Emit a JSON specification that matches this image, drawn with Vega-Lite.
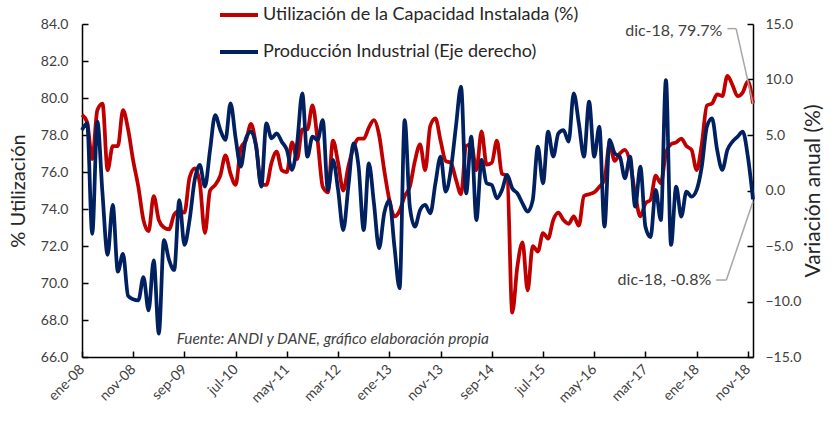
{
  "$schema": "https://vega.github.io/schema/vega-lite/v6.json",
  "width": 671,
  "height": 333,
  "autosize": {"type": "none"},
  "padding": {"left": 82, "top": 24, "right": 82, "bottom": 68},
  "background": "white",
  "config": {
    "font": "Lato",
    "view": {"stroke": null},
    "axis": {"grid": false, "labelColor": "#404040", "labelFontSize": 14, "titleColor": "#262626", "titleFontSize": 16, "titleFontWeight": "normal", "domainColor": "#000000", "tickColor": "#000000", "domainWidth": 1.5, "tickWidth": 1.5, "labelOverlap": false}
  },
  "data": {"values": [
    {"t":0,"util":79.1,"prod":5.45},{"t":1,"util":78.7,"prod":6.05},{"t":2,"util":76.7,"prod":-3.9},{"t":3,"util":79.35,"prod":6.2},{"t":4,"util":79.7,"prod":-0.26},{"t":5,"util":76.1,"prod":-5.8},{"t":6,"util":77.4,"prod":-1.3},{"t":7,"util":77.4,"prod":-7.3},{"t":8,"util":79.35,"prod":-5.7},{"t":9,"util":78.3,"prod":-9.5},{"t":10,"util":76.6,"prod":-9.8},{"t":11,"util":75.2,"prod":-9.9},
    {"t":12,"util":73.4,"prod":-7.8},{"t":13,"util":72.8,"prod":-10.8},{"t":14,"util":74.7,"prod":-6.3},{"t":15,"util":73.4,"prod":-12.9},{"t":16,"util":73.0,"prod":-4.46},{"t":17,"util":72.9,"prod":-6.26},{"t":18,"util":73.7,"prod":-7.16},{"t":19,"util":73.9,"prod":-0.86},{"t":20,"util":73.8,"prod":-4.9},{"t":21,"util":75.7,"prod":-2.66},{"t":22,"util":76.2,"prod":0.95},{"t":23,"util":75.4,"prod":2.3},
    {"t":24,"util":72.7,"prod":0.35},{"t":25,"util":75.0,"prod":3.65},{"t":26,"util":75.3,"prod":6.8},{"t":27,"util":75.8,"prod":5.45},{"t":28,"util":76.9,"prod":4.55},{"t":29,"util":75.9,"prod":7.85},{"t":30,"util":75.3,"prod":4.7},{"t":31,"util":77.3,"prod":2.15},{"t":32,"util":77.7,"prod":4.7},{"t":33,"util":78.6,"prod":5.3},{"t":34,"util":77.4,"prod":3.95},{"t":35,"util":75.3,"prod":0.35},
    {"t":36,"util":75.3,"prod":6.05},{"t":37,"util":76.5,"prod":4.7},{"t":38,"util":77.1,"prod":5.15},{"t":39,"util":76.1,"prod":4.4},{"t":40,"util":76.0,"prod":3.65},{"t":41,"util":77.6,"prod":1.85},{"t":42,"util":76.7,"prod":4.25},{"t":43,"util":78.3,"prod":8.75},{"t":44,"util":78.3,"prod":3.05},{"t":45,"util":79.6,"prod":4.85},{"t":46,"util":77.7,"prod":4.55},{"t":47,"util":75.2,"prod":6.35},
    {"t":48,"util":74.9,"prod":0.05},{"t":49,"util":77.7,"prod":2.75},{"t":50,"util":76.5,"prod":0.05},{"t":51,"util":75.0,"prod":-3.56},{"t":52,"util":76.3,"prod":0.35},{"t":53,"util":77.3,"prod":4.25},{"t":54,"util":77.8,"prod":2.15},{"t":55,"util":77.8,"prod":-3.56},{"t":56,"util":78.4,"prod":2.45},{"t":57,"util":78.8,"prod":-1.16},{"t":58,"util":78.0,"prod":-5.2},{"t":59,"util":76.1,"prod":-2.06},
    {"t":60,"util":74.5,"prod":-0.86},{"t":61,"util":73.6,"prod":-5.06},{"t":62,"util":73.9,"prod":-8.8},{"t":63,"util":74.7,"prod":6.35},{"t":64,"util":75.2,"prod":-1.46},{"t":65,"util":76.6,"prod":-3.26},{"t":66,"util":77.5,"prod":-1.76},{"t":67,"util":76.1,"prod":-1.3},{"t":68,"util":78.5,"prod":-2.06},{"t":69,"util":78.9,"prod":0.65},{"t":70,"util":77.7,"prod":3.05},{"t":71,"util":76.6,"prod":-0.1},
    {"t":72,"util":76.5,"prod":1.85},{"t":73,"util":75.6,"prod":5.75},{"t":74,"util":74.8,"prod":9.35},{"t":75,"util":77.4,"prod":-0.26},{"t":76,"util":77.5,"prod":4.85},{"t":77,"util":76.1,"prod":-2.66},{"t":78,"util":78.2,"prod":2.75},{"t":79,"util":76.4,"prod":0.65},{"t":80,"util":76.5,"prod":0.5},{"t":81,"util":77.7,"prod":-0.7},{"t":82,"util":75.9,"prod":0.05},{"t":83,"util":75.8,"prod":1.4},
    {"t":84,"util":68.4,"prod":0.2},{"t":85,"util":70.9,"prod":-0.26},{"t":86,"util":72.2,"prod":-1.16},{"t":87,"util":69.6,"prod":-1.9},{"t":88,"util":72.0,"prod":-0.86},{"t":89,"util":71.7,"prod":3.95},{"t":90,"util":72.7,"prod":0.65},{"t":91,"util":72.4,"prod":5.3},{"t":92,"util":73.4,"prod":3.05},{"t":93,"util":73.8,"prod":5.15},{"t":94,"util":73.4,"prod":5.45},{"t":95,"util":73.2,"prod":4.4},
    {"t":96,"util":73.6,"prod":8.75},{"t":97,"util":73.1,"prod":6.05},{"t":98,"util":74.7,"prod":3.05},{"t":99,"util":74.8,"prod":8.0},{"t":100,"util":74.9,"prod":3.05},{"t":101,"util":75.2,"prod":5.75},{"t":102,"util":75.6,"prod":-3.26},{"t":103,"util":77.5,"prod":4.55},{"t":104,"util":76.6,"prod":3.35},{"t":105,"util":77.0,"prod":3.05},{"t":106,"util":77.2,"prod":1.1},{"t":107,"util":76.5,"prod":3.05},
    {"t":108,"util":74.8,"prod":-1.46},{"t":109,"util":73.6,"prod":2.15},{"t":110,"util":74.3,"prod":-3.26},{"t":111,"util":74.5,"prod":-4.2},{"t":112,"util":75.8,"prod":0.05},{"t":113,"util":75.4,"prod":-2.66},{"t":114,"util":77.0,"prod":9.95},{"t":115,"util":77.5,"prod":-4.9},{"t":116,"util":77.6,"prod":0.35},{"t":117,"util":77.8,"prod":-2.36},{"t":118,"util":77.4,"prod":-0.1},{"t":119,"util":77.2,"prod":-0.56},
    {"t":120,"util":76.1,"prod":0.05},{"t":121,"util":77.5,"prod":2.15},{"t":122,"util":79.6,"prod":5.75},{"t":123,"util":79.7,"prod":6.5},{"t":124,"util":80.2,"prod":3.65},{"t":125,"util":80.1,"prod":1.85},{"t":126,"util":81.2,"prod":3.65},{"t":127,"util":80.7,"prod":4.4},{"t":128,"util":80.1,"prod":4.85},{"t":129,"util":80.3,"prod":5.3},{"t":130,"util":80.9,"prod":3.05},{"t":131,"util":79.7,"prod":-0.8}
  ]},
  "layer": [
    {
      "mark": {"type": "line", "interpolate": "monotone", "strokeWidth": 3.75},
      "encoding": {
        "x": {"field": "t", "type": "quantitative", "scale": {"domain": [0, 131], "nice": false, "zero": false},
              "axis": {"title": null, "values": [0,10,20,30,40,50,60,70,80,90,100,110,120,130],
                       "labelExpr": "['ene-08','nov-08','sep-09','jul-10','may-11','mar-12','ene-13','nov-13','sep-14','jul-15','may-16','mar-17','ene-18','nov-18'][round(datum.value/10)]",
                       "labelAngle": -45, "labelAlign": "right", "labelBaseline": "middle", "tickSize": -6, "labelPadding": 16, "labelFontSize": 14}},
        "y": {"field": "util", "type": "quantitative", "scale": {"domain": [66, 84], "nice": false, "zero": false},
              "axis": {"title": "% Utilización", "values": [66,68,70,72,74,76,78,80,82,84], "format": ".1f", "tickSize": -6, "labelPadding": 20, "titlePadding": 12, "titleFontSize": 20, "labelFontSize": 14, "labelOverlap": false}},
        "color": {"datum": "Utilización de la Capacidad Instalada (%)", "type": "nominal",
                  "scale": {"domain": ["Utilización de la Capacidad Instalada (%)", "Producción Industrial (Eje derecho)"], "range": ["#C00000", "#002060"]},
                  "legend": {"title": null, "orient": "none", "legendX": 136, "legendY": -30, "direction": "vertical", "symbolType": "stroke", "symbolStrokeWidth": 4, "symbolSize": 1444, "labelFontSize": 18, "labelColor": "#262626", "rowPadding": 7, "labelOffset": 3, "labelLimit": 500}}
      }
    },
    {
      "mark": {"type": "line", "interpolate": "monotone", "strokeWidth": 3.75},
      "encoding": {
        "x": {"field": "t", "type": "quantitative"},
        "y": {"field": "prod", "type": "quantitative", "scale": {"domain": [-15, 15], "nice": false, "zero": false},
              "axis": {"orient": "right", "title": "Variación anual (%)", "titleAngle": -90, "values": [-15,-10,-5,0,5,10,15], "format": ".1f", "tickSize": -6, "labelPadding": 18, "labelAlign": "left", "titlePadding": 23, "titleFontSize": 21, "labelFontSize": 14, "labelOverlap": false}},
        "color": {"datum": "Producción Industrial (Eje derecho)", "type": "nominal"}
      }
    },
    {
      "data": {"values": [{}]},
      "layer": [
        {
          "mark": {"type": "text", "align": "right", "baseline": "middle", "fontSize": 16, "color": "#404040"},
          "encoding": {"x": {"datum": 125}, "y": {"datum": 83.6, "scale": {"domain": [66, 84], "nice": false, "zero": false}, "axis": null}, "text": {"value": "dic-18, 79.7%"}}
        },
        {
          "mark": {"type": "rule", "color": "#A6A6A6", "strokeWidth": 1.5},
          "encoding": {"x": {"datum": 126}, "x2": {"datum": 127.7}, "y": {"datum": 83.75, "axis": null}, "y2": {"datum": 83.75}}
        },
        {
          "mark": {"type": "rule", "color": "#A6A6A6", "strokeWidth": 1.5},
          "encoding": {"x": {"datum": 127.7}, "x2": {"datum": 131}, "y": {"datum": 83.75, "axis": null}, "y2": {"datum": 79.7}}
        },
        {
          "mark": {"type": "text", "align": "left", "baseline": "middle", "fontSize": 15.4, "fontStyle": "italic", "color": "#404040"},
          "encoding": {"x": {"datum": 18.5}, "y": {"datum": 67.0, "axis": null}, "text": {"value": "Fuente: ANDI y DANE, gráfico elaboración propia"}}
        },
        {
          "mark": {"type": "text", "align": "right", "baseline": "middle", "fontSize": 16, "color": "#404040"},
          "encoding": {"x": {"datum": 122.85}, "y": {"datum": 70.16, "axis": null}, "text": {"value": "dic-18, -0.8%"}}
        },
        {
          "mark": {"type": "rule", "color": "#A6A6A6", "strokeWidth": 1.5},
          "encoding": {"x": {"datum": 123.8}, "x2": {"datum": 125.8}, "y": {"datum": 70.16, "axis": null}, "y2": {"datum": 70.16}}
        },
        {
          "mark": {"type": "rule", "color": "#A6A6A6", "strokeWidth": 1.5},
          "encoding": {"x": {"datum": 125.8}, "x2": {"datum": 131}, "y": {"datum": 70.16, "axis": null}, "y2": {"datum": 74.4}}
        }
      ]
    }
  ],
  "resolve": {"scale": {"y": "independent"}}
}
